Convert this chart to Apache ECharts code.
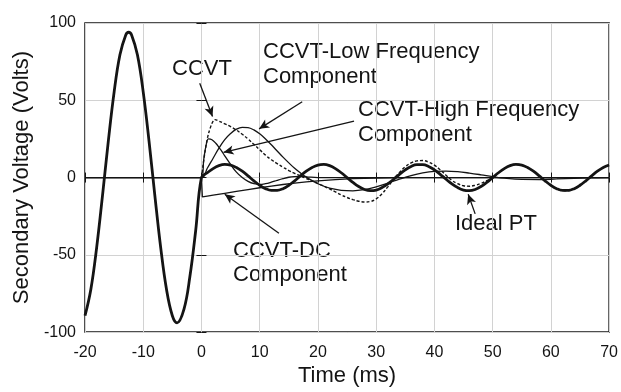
<!DOCTYPE html>
<html>
<head>
<meta charset="utf-8">
<script src="https://cdn.jsdelivr.net/npm/echarts@6/dist/echarts.min.js"></script>
<style>
html,body{margin:0;padding:0;background:#fff;}
#c{width:621px;height:392px;}
</style>
</head>
<body>
<div id="c"></div>
<script>
// ---- data ----
const xTicks = [-20, -10, 0, 10, 20, 30, 40, 50, 60, 70];
const yTicks = [-100, -50, 0, 50, 100];

// Ideal PT (thick): pre-fault and post-fault voltage
const idealT = [-20,-19,-18,-17,-16,-15,-14,-13,-12.5,-12,-11,-10,-9,-8,-7,-6,-5,-4.2,-3,-2,-1,0,
  1,2,3,4,5,6,7,8,9,10,11,12,13,14,15,16,17,18,19,20,21,22,23,24,25,
  26,27,28,29,30,31,32,33,34,35,36,37,38,39,40,41,42,43,44,45,46,47,48,49,50,
  51,52,53,54,55,56,57,58,59,60,61,62,63,64,65,66,67,68,69,70];
const idealV = [-89.4,-72.4,-45.3,-11.8,23.4,55.3,79.4,92.3,94,92.3,79.4,55.3,23.4,-11.8,-45.3,-72.4,-89.4,-94,-85.1,-64.4,-34.6,0,
  3.1,5.8,7.7,8.5,8.1,6.5,4.1,1.1,-2.1,-5.0,-7.2,-8.3,-8.3,-7.2,-5.0,-2.1,1.1,4.1,6.5,8.1,8.5,7.7,5.8,3.1,0,
  -3.1,-5.8,-7.7,-8.5,-8.1,-6.5,-4.1,-1.1,2.1,5.0,7.2,8.3,8.3,7.2,5.0,2.1,-1.1,-4.1,-6.5,-8.1,-8.5,-7.7,-5.8,-3.1,0,
  3.1,5.8,7.7,8.5,8.1,6.5,4.1,1.1,-2.1,-5.0,-7.2,-8.3,-8.3,-7.2,-5.0,-2.1,1.1,4.1,6.5,8.1];

// CCVT output (dashed)
const ccvtT = [0,0.5,1,1.5,2,2.3,3,4,5,6,7,8,9,10,11,12,13,14,15,16,17,18,19,20,21,22,23,24,25,26,27,28,29,30,
  31,32,33,34,35,36,37,38,39,40,41,42,43,44,45,46,47,48,49,50,
  51,52,53,54,55,56,57,58,59,60,61,62,63,64,65,66,67,68,69,70];
const ccvtV = [0,14,25,32,36.5,37.5,36.5,34.8,33,30.7,28,25,21.5,18,14.5,11.5,9,6.7,4.5,2.7,1,-0.6,-2.1,-3.8,-5.6,-7.4,-9.3,-11.2,-12.9,-14.3,-15.3,-15.8,-15.5,-13.8,
  -10.5,-6,-1.2,3.3,7,9.5,10.8,11,10,8,5,1.5,-1.8,-4,-5.3,-5.6,-5,-3.8,-2,0,
  3,5.8,7.7,8.5,8.1,6.5,4.1,1.1,-2.1,-5.1,-7.3,-8.5,-8.5,-7.4,-5.2,-2.2,1,4,6.4,8];

// CCVT low frequency component (thin)
const lowT = [-20,0,1,2,3,4,5,6,7,8,9,10,11,12,13,14,15,16,17,18,19,20,21,22,24,26,28,30,32,34,36,38,40,42,44,46,48,50,52,55,58,61,64,67,70];
const lowV = [0,0,6,12.5,19,24.5,28.5,31.3,32.5,32.3,30.8,28.3,25,21.2,17.2,13.2,9.5,6,3,0.3,-2,-4,-5.6,-6.8,-8.3,-8.6,-7.8,-6,-3.6,-1,1.3,3,4,4.2,3.8,2.9,1.8,0.6,-0.4,-1.2,-1.3,-0.9,-0.5,-0.2,0];

// CCVT high frequency component (thin)
const highT = [-20,0,0.4,0.8,1.2,1.8,2.5,3,3.5,4,5,6,7,8,9,10,11,12,13,14,15,16,17,18,20,70];
const highV = [0,0,12,21,25,24.5,22,19.5,17,14,8.5,3.5,0,-2.5,-4,-4.5,-4,-3,-1.8,-0.7,0.2,0.6,0.7,0.5,0,0];

// CCVT DC component (thin)
const dcT = [-20,0,0.15,1,2,4,6,8,10,12,14,16,18,20,23,26,30,35,70];
const dcV = [0,0,-12.5,-12,-11.4,-10.2,-9,-7.8,-6.6,-5.5,-4.5,-3.6,-2.8,-2.1,-1.3,-0.7,-0.3,0,0];

// annotation arrows: [fromTime, fromVolt, toTime, toVolt]
const arrows = [
  [-0.3, 61, 1.9, 39.5],     // CCVT
  [17.3, 49, 9.9, 31.5],     // low frequency
  [26.2, 36.5, 3.8, 16.3],   // high frequency
  [13.3, -36, 4.0, -10.8],   // DC
  [47.0, -23.5, 45.8, -10.8] // ideal PT
];
// ---- end data ----

const zip = (t, v) => t.map((x, i) => [x, v[i]]);
const ink = '#141414';
const font = '22px "Liberation Sans"';
const chart = echarts.init(document.getElementById('c'), null, {renderer: 'canvas'});

const axisCommon = {
  axisTick: {show: true, inside: true, length: 5, lineStyle: {color: ink, width: 1}},
  axisLine: {show: false},
  splitLine: {show: false}
};

chart.setOption({
  animation: false,
  backgroundColor: '#fff',
  grid: {left: 85, right: 10, top: 23, bottom: 58, show: true, borderColor: ink, borderWidth: 1.5, backgroundColor: 'transparent'},
  xAxis: [
    Object.assign({}, axisCommon, {
      type: 'value', min: -20, max: 70, interval: 10, position: 'bottom',
      name: 'Time (ms)', nameLocation: 'middle', nameGap: 32,
      nameTextStyle: {fontFamily: 'Liberation Sans', fontSize: 22, color: ink},
      axisLabel: {fontFamily: 'Liberation Sans', fontSize: 16, color: ink, margin: 12,
        formatter: v => xTicks.includes(v) ? String(v) : ''},
      splitLine: {show: true, lineStyle: {color: '#d2d2d2', width: 1}}
    }),
    Object.assign({}, axisCommon, {
      type: 'value', min: -20, max: 70, interval: 10, position: 'top', axisLabel: {show: false}
    })
  ],
  yAxis: [
    Object.assign({}, axisCommon, {
      type: 'value', min: -100, max: 100, interval: 50, position: 'left',
      name: 'Secondary Voltage (Volts)', nameLocation: 'middle', nameGap: 50,
      nameTextStyle: {fontFamily: 'Liberation Sans', fontSize: 22, color: ink},
      axisLabel: {fontFamily: 'Liberation Sans', fontSize: 16, color: ink, margin: 9,
        formatter: v => yTicks.includes(v) ? String(v) : ''},
      splitLine: {show: true, lineStyle: {color: '#d2d2d2', width: 1}}
    }),
    Object.assign({}, axisCommon, {
      type: 'value', min: -100, max: 100, interval: 50, position: 'right', axisLabel: {show: false}
    })
  ],
  series: [
    {type: 'line', name: 'DC', data: zip(dcT, dcV), showSymbol: false, smooth: false,
      lineStyle: {color: ink, width: 1.3}, z: 2},
    {type: 'line', name: 'HF', data: zip(highT, highV), showSymbol: false, smooth: 0.4,
      lineStyle: {color: ink, width: 1.3}, z: 2},
    {type: 'line', name: 'LF', data: zip(lowT, lowV), showSymbol: false, smooth: 0.4,
      lineStyle: {color: ink, width: 1.3}, z: 2},
    {type: 'line', name: 'CCVT', data: zip(ccvtT, ccvtV), showSymbol: false, smooth: 0.4,
      lineStyle: {color: ink, width: 1.4, type: [3, 2]}, z: 3},
    {type: 'line', name: 'Ideal PT', data: zip(idealT, idealV), showSymbol: false, smooth: 0.4,
      lineStyle: {color: ink, width: 2.8}, z: 4,
      markLine: {
        silent: true, animation: false,
        symbol: ['none', 'arrow'], symbolSize: [7, 10],
        label: {show: false},
        lineStyle: {color: ink, width: 1.3, type: 'solid'},
        data: arrows.map(a => [{coord: [a[0], a[1]]}, {coord: [a[2], a[3]]}])
      }}
  ],
  graphic: [
    {type: 'text', left: 172, top: 58, style: {text: 'CCVT', font: font, fill: ink}},
    {type: 'text', left: 263, top: 41, style: {text: 'CCVT-Low Frequency', font: font, fill: ink}},
    {type: 'text', left: 263, top: 66, style: {text: 'Component', font: font, fill: ink}},
    {type: 'text', left: 358, top: 99, style: {text: 'CCVT-High Frequency', font: font, fill: ink}},
    {type: 'text', left: 358, top: 124, style: {text: 'Component', font: font, fill: ink}},
    {type: 'text', left: 233, top: 240, style: {text: 'CCVT-DC', font: font, fill: ink}},
    {type: 'text', left: 233, top: 264, style: {text: 'Component', font: font, fill: ink}},
    {type: 'text', left: 455, top: 213, style: {text: 'Ideal PT', font: font, fill: ink}}
  ]
});
</script>
</body>
</html>
